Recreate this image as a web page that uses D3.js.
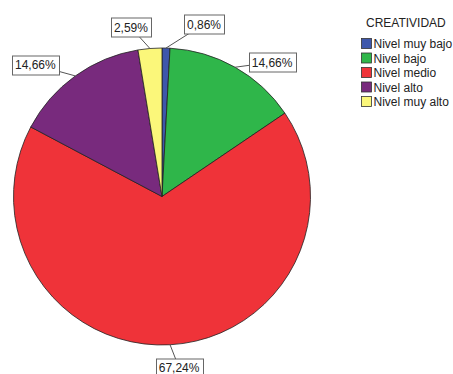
<!DOCTYPE html>
<html>
<head>
<meta charset="utf-8">
<script src="https://cdn.jsdelivr.net/npm/d3@7"></script>
<style>
  html, body { margin: 0; padding: 0; background: #fff; overflow: hidden; }
  svg { display: block; font-family: "Liberation Sans", Arial, sans-serif; }
</style>
</head>
<body>
<svg id="chart" width="453" height="374"></svg>
<script>
// ---- Data ----
const legendTitle = "CREATIVIDAD";
const categories = ["Nivel muy bajo", "Nivel bajo", "Nivel medio", "Nivel alto", "Nivel muy alto"];
const percentages = [0.86, 14.66, 67.24, 14.66, 2.59];
const labels = ["0,86%", "14,66%", "67,24%", "14,66%", "2,59%"];
const colors = ["#3e57ab", "#2fb64a", "#ef3339", "#782a7d", "#fbf77a"];

// ---- Layout ----
const svg = d3.select("#chart");
const cx = 162, cy = 196.5, r = 148.5;
// label box offsets relative to the arc midpoint (layout only)
const labelOffsets = [[38, -24], [37, -5], [9, 23], [-40, -11], [-19, -21]];

const pie = d3.pie().sort(null).value(d => d.value).startAngle(0).endAngle(2 * Math.PI);
const rows = categories.map((c, i) => ({ cat: c, value: percentages[i], label: labels[i], color: colors[i] }));
const arcs = pie(rows);
const arc = d3.arc().innerRadius(0).outerRadius(r);

const g = svg.append("g").attr("transform", `translate(${cx},${cy})`);
g.selectAll("path.slice")
  .data(arcs)
  .enter().append("path")
  .attr("class", "slice")
  .attr("d", arc)
  .attr("fill", d => d.data.color)
  .attr("stroke", "#222")
  .attr("stroke-width", 0.8);

// labels
const lg = g.append("g");
arcs.forEach((d, i) => {
  const a = (d.startAngle + d.endAngle) / 2;
  const px = r * Math.sin(a), py = -r * Math.cos(a);
  const bx = px + labelOffsets[i][0], by = py + labelOffsets[i][1];
  lg.append("line")
    .attr("x1", px).attr("y1", py).attr("x2", bx).attr("y2", by)
    .attr("stroke", "#555").attr("stroke-width", 1);
  const t = lg.append("text")
    .attr("x", bx).attr("y", by + 4.5)
    .attr("text-anchor", "middle")
    .attr("font-size", 12)
    .attr("fill", "#222")
    .text(d.data.label);
  const bb = t.node().getBBox();
  const w = bb.width + 6, h = 19;
  lg.insert("rect", () => t.node())
    .attr("x", Math.round(bx - w / 2) + 0.5).attr("y", Math.round(by - h / 2) + 0.5)
    .attr("width", Math.round(w)).attr("height", h)
    .attr("fill", "#fff").attr("stroke", "#666").attr("stroke-width", 1);
});

// legend
const leg = svg.append("g");
leg.append("text")
  .attr("x", 366).attr("y", 26.5)
  .attr("font-size", 12)
  .attr("fill", "#222")
  .text(legendTitle);
const li = leg.selectAll("g.item").data(rows).enter().append("g")
  .attr("class", "item")
  .attr("transform", (d, i) => `translate(361,${38 + i * 14.5})`);
li.append("rect")
  .attr("x", 0.5).attr("y", 0.5).attr("width", 10).attr("height", 10)
  .attr("fill", d => d.color).attr("stroke", "#333").attr("stroke-width", 0.8);
li.append("text")
  .attr("x", 12.5).attr("y", 10)
  .attr("font-size", 12)
  .attr("fill", "#222")
  .text(d => d.cat);
</script>
</body>
</html>
